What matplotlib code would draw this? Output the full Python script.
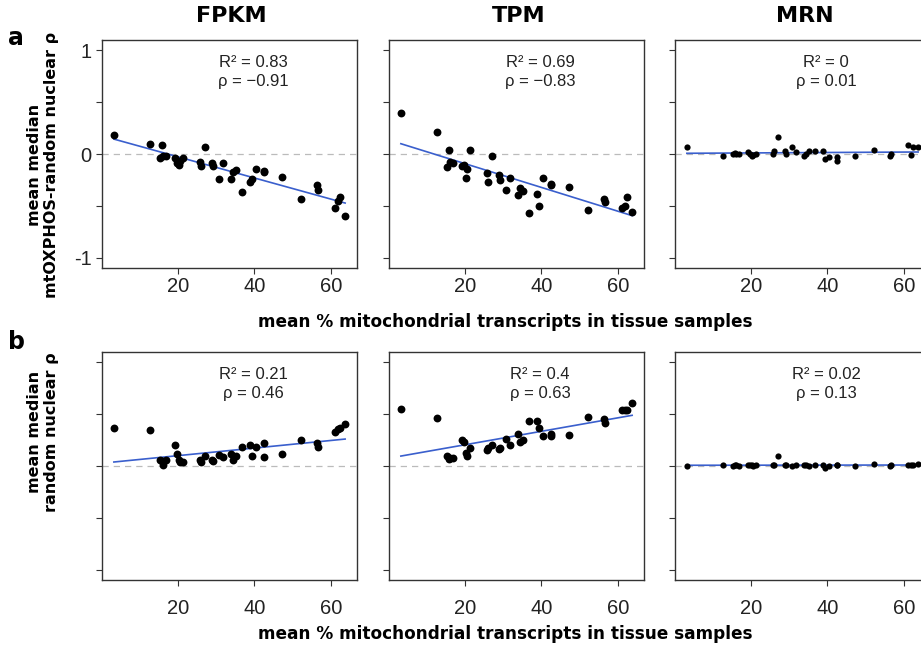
import numpy as np
import matplotlib
matplotlib.use("Agg")
import matplotlib.pyplot as plt

plt.rcParams['font.family'] = ['Liberation Sans', 'DejaVu Sans']
plt.rcParams['axes.unicode_minus'] = False

# mean % mitochondrial transcripts per tissue
mito_pct = [3.3, 12.8, 15.3, 15.9, 16.1, 16.8, 19.3, 19.9, 20.2, 20.6, 21.3,
            25.8, 26.1, 27.1, 28.9, 29.3, 30.8, 31.9, 33.9, 34.4, 35.3, 36.7,
            38.9, 39.3, 40.5, 42.5, 42.6, 47.2, 52.2, 56.3, 56.6, 61.1, 61.8,
            62.3, 63.7]

# row a: mean median mtOXPHOS - random nuclear rho
a_fpkm = [0.18, 0.094, -0.035, 0.087, -0.02, -0.02, -0.035, -0.084, -0.106, -0.068, -0.035,
          -0.074, -0.116, 0.065, -0.084, -0.113, -0.239, -0.084, -0.239, -0.171, -0.155, -0.365,
          -0.268, -0.245, -0.148, -0.177, -0.161, -0.223, -0.435, -0.30, -0.348, -0.519, -0.45,
          -0.419, -0.60]
a_tpm = [0.396, 0.211, -0.123, 0.036, -0.081, -0.091, -0.12, -0.104, -0.227, -0.143, 0.042,
         -0.185, -0.266, -0.019, -0.201, -0.25, -0.347, -0.234, -0.40, -0.33, -0.36, -0.568,
         -0.39, -0.50, -0.234, -0.292, -0.30, -0.318, -0.536, -0.438, -0.461, -0.52, -0.50,
         -0.419, -0.562]
a_mrn = [0.065, -0.016, 0.0, 0.005, 0.0, 0.0, 0.016, 0.0, -0.016, -0.01, 0.0,
         0.0, 0.03, 0.16, 0.03, 0.0, 0.065, 0.02, -0.016, 0.0, 0.025, 0.03,
         0.03, -0.05, -0.025, -0.03, -0.07, -0.02, 0.04, -0.016, 0.0, 0.09, -0.01,
         0.07, 0.065]

# row b: mean median random nuclear rho
b_fpkm = [0.367, 0.347, 0.055, 0.049, 0.006, 0.055, 0.20, 0.114, 0.055, 0.039, 0.039,
          0.055, 0.039, 0.097, 0.055, 0.049, 0.104, 0.088, 0.114, 0.062, 0.097, 0.179,
          0.20, 0.097, 0.179, 0.218, 0.088, 0.12, 0.25, 0.218, 0.185, 0.331, 0.354,
          0.364, 0.406]
b_tpm = [0.554, 0.465, 0.096, 0.064, 0.074, 0.08, 0.247, 0.231, 0.128, 0.096, 0.176,
         0.15, 0.176, 0.20, 0.167, 0.17, 0.263, 0.20, 0.31, 0.231, 0.25, 0.433,
         0.433, 0.362, 0.288, 0.288, 0.31, 0.298, 0.471, 0.455, 0.417, 0.545, 0.545,
         0.545, 0.609]
b_mrn = [0.0, 0.005, 0.004, 0.006, 0.005, 0.004, 0.006, 0.008, 0.005, 0.004, 0.006,
         0.005, 0.006, 0.10, 0.005, 0.006, 0.004, 0.005, 0.006, 0.005, 0.004, 0.005,
         0.008, -0.015, 0.004, 0.006, 0.005, 0.003, 0.02, 0.004, 0.006, 0.01, 0.005,
         0.01, 0.02]

col_titles = ["FPKM", "TPM", "MRN"]
stats_a = [("0.83", "\u22120.91"), ("0.69", "\u22120.83"), ("0", "0.01")]
stats_b = [("0.21", "0.46"), ("0.4", "0.63"), ("0.02", "0.13")]
row_letters = ["a", "b"]
xlabel_text = "mean % mitochondrial transcripts in tissue samples"
ylabels = ["mean median\nmtOXPHOS-random nuclear \u03c1", "mean median\nrandom nuclear \u03c1"]

W, H = 921, 652
fig = plt.figure(figsize=(W / 100, H / 100), dpi=100)

lefts = [102, 389, 675]
tops = [40, 352]
aw, ah = 255, 228
xpads = [2, 9]

rows = [[a_fpkm, a_tpm, a_mrn], [b_fpkm, b_tpm, b_mrn]]
stats = [stats_a, stats_b]
heavy = dict(family=['DejaVu Sans'], fontweight='bold')

x = np.array(mito_pct)
for r in range(2):
    for c in range(3):
        ax = fig.add_axes([lefts[c] / W, (H - tops[r] - ah) / H, aw / W, ah / H])
        y = np.array(rows[r][c])
        ax.axhline(0, color='#bbbbbb', lw=0.9, ls=(0, (5, 4)), zorder=1)
        ms = 32 if c < 2 else 20
        ax.scatter(x, y, s=ms, color='black', zorder=3, linewidths=0)
        k, b0 = np.polyfit(x, y, 1)
        xx = np.array([x.min(), x.max()])
        ax.plot(xx, k * xx + b0, color='#3a5fcd', lw=1.2, zorder=2)
        ax.set_xlim(0.2, 66.8)
        ax.set_ylim(-1.1, 1.1)
        ax.set_xticks([20, 40, 60])
        ax.set_yticks([-1, -0.5, 0, 0.5, 1])
        if r == 0 and c == 0:
            ax.set_yticklabels(["-1", "", "0", "", "1"])
        else:
            ax.set_yticklabels([])
        ax.set_xticklabels(["20", "40", "60"])
        ax.tick_params(axis='both', direction='out', length=4.5, width=0.8,
                       colors='#333333', labelcolor='#222222', labelsize=14.5)
        ax.tick_params(axis='x', pad=xpads[r])
        ax.tick_params(axis='y', pad=3)
        for s in ax.spines.values():
            s.set_color('#333333')
            s.set_linewidth(1.0)
        r2, rho = stats[r][c]
        ax.text(39.7, 0.88, "R\u00b2 = " + r2, ha='center', va='center', fontsize=12, color='#222222')
        ax.text(39.7, 0.70, "\u03c1 = " + rho, ha='center', va='center', fontsize=12, color='#222222')
        if r == 0:
            fig.text((lefts[c] + aw / 2 + 2) / W, 1 - 16 / H, col_titles[c], ha='center', va='center',
                     fontsize=16, **heavy)

fig.text(505 / W, 1 - 322 / H, xlabel_text, ha='center', va='center', fontsize=12.2, **heavy)
fig.text(505 / W, 1 - 634 / H, xlabel_text, ha='center', va='center', fontsize=12.2, **heavy)
fig.text(16 / W, 1 - 38 / H, row_letters[0], ha='center', va='center', fontsize=17, **heavy)
fig.text(16 / W, 1 - 342 / H, row_letters[1], ha='center', va='center', fontsize=17, **heavy)
fig.text(43 / W, 1 - 165 / H, ylabels[0], ha='center', va='center', rotation=90, fontsize=11.5,
         linespacing=1.15, **heavy)
fig.text(43 / W, 1 - 432 / H, ylabels[1], ha='center', va='center', rotation=90, fontsize=11.5,
         linespacing=1.15, **heavy)

fig.savefig("out.png", dpi=100)
